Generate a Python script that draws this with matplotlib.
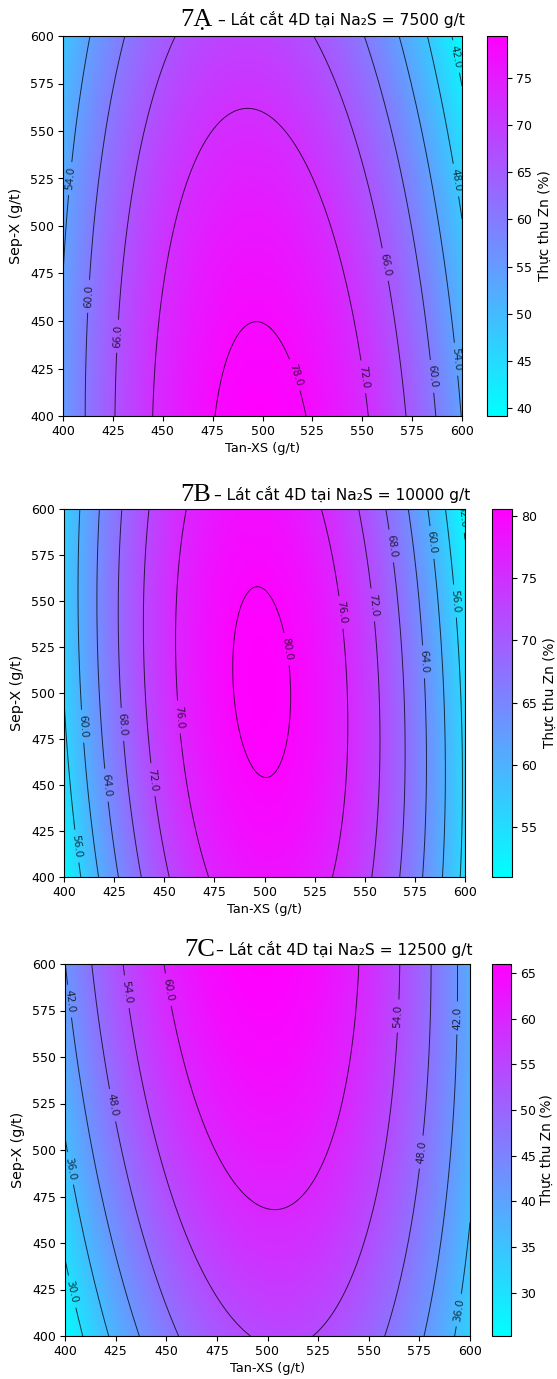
import matplotlib
matplotlib.use('Agg')
import matplotlib.pyplot as plt
from matplotlib import font_manager
import numpy as np

plt.rcParams['font.family'] = 'DejaVu Sans'
plt.rcParams['font.size'] = 9

# narrow face for horizontal axis text, if the system has it
_names = {f.name for f in font_manager.fontManager.ttflist}
if 'DejaVu Sans Condensed' in _names:
    NARROW, NARROW_SIZE = 'DejaVu Sans Condensed', 9.8
else:
    NARROW, NARROW_SIZE = 'DejaVu Sans', 9.0

# Na2S slices of the 4D response surface
panel_tags = ['7Ạ', '7B', '7C']
na2s_doses = [7500, 10000, 12500]

# quadratic model coefficients, coded units u=(Tan-XS-500)/100, v=(Sep-X-500)/100
b0 = [75.77, 80.50, 61.98]
b_tan = [-2.50, -0.58, 1.02]
b_sep = [-5.25, 0.20, 5.70]
b_tan2 = [-25.0, -25.0, -25.5]
b_sep2 = [-1.72, -1.94, -1.80]
b_tan_sep = [-2.00, -2.08, -2.55]

tan_range = [400, 600]
sep_range = [400, 600]

# where the contour labels sit (Tan-XS, Sep-X)
label_spots = [
    [(403, 525), (413, 463), (427, 442), (520, 423), (553, 421), (586, 421),
     (598, 430), (563, 480), (596, 524), (596, 589)],
    [(410, 482), (430, 483), (458, 487), (422, 450), (445, 453), (408, 417),
     (512, 524), (539, 544), (555, 548), (564, 580), (580, 517), (585, 582),
     (595, 550), (599, 596)],
    [(402, 580), (430, 585), (450, 586), (423, 524), (402, 490), (404, 424),
     (565, 572), (594, 571), (575, 499), (594, 414)],
]

# axes / colorbar boxes in pixels: left, top, right, bottom
ax_boxes = [(63, 36, 462, 416), (64, 509, 465, 877), (65, 964, 470, 1336)]
cb_boxes = [(487, 36, 507, 416), (492, 509, 512, 877), (492, 964, 511, 1336)]
cb_labelpad = [4, 4, 2.5]
tag_pos = [(180, 20), (180, 495), (184, 950)]
title_pos = [(218, 20), (214, 495), (216, 950)]

W, H = 557, 1379
fig = plt.figure(figsize=(W / 100, H / 100), dpi=100)


def rect(box):
    l, t, r, b = box
    return [l / W, 1 - b / H, (r - l) / W, (b - t) / H]


tan = np.linspace(tan_range[0], tan_range[1], 301)
sep = np.linspace(sep_range[0], sep_range[1], 301)
T, S = np.meshgrid(tan, sep)
u = (T - 500) / 100
v = (S - 500) / 100

for i in range(3):
    Z = (b0[i] + b_tan[i] * u + b_sep[i] * v + b_tan2[i] * u ** 2
         + b_sep2[i] * v ** 2 + b_tan_sep[i] * u * v)

    ax = fig.add_axes(rect(ax_boxes[i]))
    cax = fig.add_axes(rect(cb_boxes[i]))

    cf = ax.contourf(T, S, Z, levels=200, cmap='cool')
    cs = ax.contour(T, S, Z, colors='black', linewidths=0.7, alpha=0.75)
    ax.clabel(cs, fmt='%.1f', fontsize=7.5, manual=label_spots[i], inline=True)

    ax.set_xlim(tan_range)
    ax.set_ylim(sep_range)
    ax.set_xticks(np.arange(400, 601, 25))
    ax.set_yticks(np.arange(400, 601, 25))
    ax.tick_params(length=3.6, pad=3)
    for lab in ax.get_xticklabels() + ax.get_yticklabels():
        lab.set_family(NARROW)
        lab.set_fontsize(NARROW_SIZE)
    ax.set_xlabel('Tan-XS (g/t)', family=NARROW, fontsize=NARROW_SIZE + 0.3,
                  labelpad=3)
    ax.set_ylabel('Sep-X (g/t)', fontsize=10.3, labelpad=5)

    cb = fig.colorbar(cf, cax=cax)
    lo, hi = Z.min(), Z.max()
    cb.set_ticks(np.arange(np.ceil(lo / 5) * 5, hi, 5))
    cb.ax.tick_params(length=3.6, pad=3)
    for lab in cb.ax.get_yticklabels():
        lab.set_family(NARROW)
        lab.set_fontsize(NARROW_SIZE)
    cb.set_label('Thực thu Zn (%)', fontsize=9.8, labelpad=cb_labelpad[i])
    cb.outline.set_linewidth(0.8)

    # panel tag in serif, followed by the slice title
    fig.text(tag_pos[i][0] / W, 1 - tag_pos[i][1] / H, panel_tags[i],
             family='Liberation Serif', fontsize=19, va='center', ha='left')
    fig.text(title_pos[i][0] / W, 1 - title_pos[i][1] / H,
             '– Lát cắt 4D tại Na₂S = %d g/t' % na2s_doses[i],
             fontsize=11.2, va='center', ha='left')

fig.savefig('out.png', dpi=100)
